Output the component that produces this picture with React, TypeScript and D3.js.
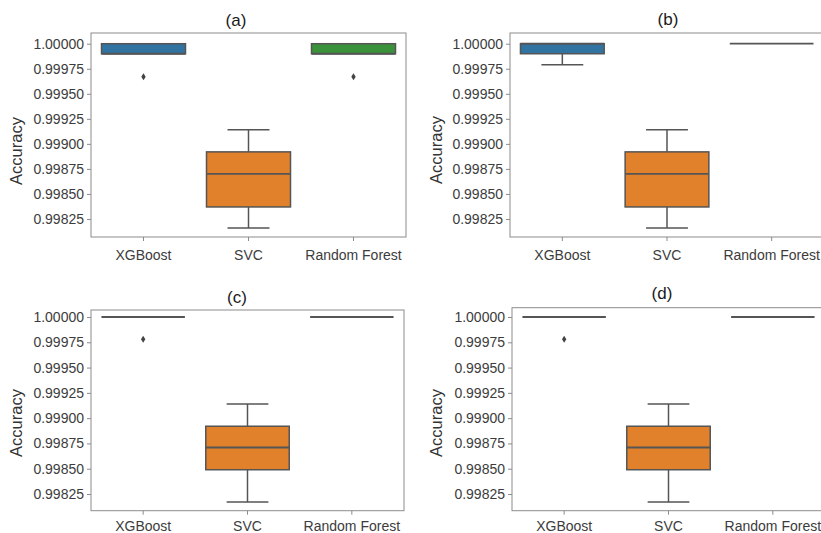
import React, { useRef, useEffect } from "react";
import { select, scaleLinear, scaleBand, axisLeft, axisBottom, format } from "d3";

const categories = ["XGBoost", "SVC", "Random Forest"];
const boxColors = ["#3274a1", "#e1812c", "#3a923a"];
const panelTitles = ["(a)", "(b)", "(c)", "(d)"];
const yTicks = [1.0, 0.99975, 0.9995, 0.99925, 0.999, 0.99875, 0.9985, 0.99825];

// [whiskerLow, q1, median, q3, whiskerHigh] per category
const statsA = [
  [0.9999, 0.9999, 0.9999, 1.0, 1.0],
  [0.99816, 0.99837, 0.9987, 0.99892, 0.99914],
  [0.9999, 0.9999, 0.9999, 1.0, 1.0],
];
const outliersA = [[0.99967], [], [0.99967]];

const statsB = [
  [0.99979, 0.9999, 1.0, 1.0, 1.0],
  [0.99816, 0.99837, 0.9987, 0.99892, 0.99914],
  [1.0, 1.0, 1.0, 1.0, 1.0],
];
const outliersB = [[], [], []];

const statsC = [
  [1.0, 1.0, 1.0, 1.0, 1.0],
  [0.99817, 0.99849, 0.99871, 0.99892, 0.99914],
  [1.0, 1.0, 1.0, 1.0, 1.0],
];
const outliersC = [[0.99978], [], []];

const statsD = [
  [1.0, 1.0, 1.0, 1.0, 1.0],
  [0.99817, 0.99849, 0.99871, 0.99892, 0.99914],
  [1.0, 1.0, 1.0, 1.0, 1.0],
];
const outliersD = [[0.99978], [], []];

const allStats = [statsA, statsB, statsC, statsD];
const allOutliers = [outliersA, outliersB, outliersC, outliersD];

// frame and text placement of each panel
const layouts = [
  { left: 91, right: 406, top: 33, bottom: 237, yMin: 0.99807, yMax: 1.000107, titleX: 236, titleY: 26, labelX: 22, labelY: 151, xLabelY: 260 },
  { left: 510, right: 824, top: 33, bottom: 237, yMin: 0.99807, yMax: 1.000107, titleX: 668, titleY: 25, labelX: 442, labelY: 150, xLabelY: 260 },
  { left: 91, right: 404, top: 310, bottom: 510.7, yMin: 0.998085, yMax: 1.0000692, titleX: 237, titleY: 303, labelX: 22, labelY: 423, xLabelY: 531 },
  { left: 512, right: 825, top: 307.7, bottom: 510.7, yMin: 0.998085, yMax: 1.000092, titleX: 662, titleY: 299, labelX: 442, labelY: 423, xLabelY: 531 },
];

const lineColor = "#555555";
const fontFamily = "'Liberation Sans', Arial, sans-serif";

const App: React.FC = () => {
  const svgRef = useRef<SVGSVGElement>(null);

  useEffect(() => {
    const svg = select(svgRef.current);
    svg.selectAll("*").remove();

    layouts.forEach((lay, p) => {
      const g = svg.append("g");
      const y = scaleLinear().domain([lay.yMin, lay.yMax]).range([lay.bottom, lay.top]);
      const x = scaleBand<string>().domain(categories).range([lay.left, lay.right]);
      const bw = x.bandwidth() * 0.8;

      // frame
      g.append("rect")
        .attr("x", lay.left)
        .attr("y", lay.top)
        .attr("width", lay.right - lay.left)
        .attr("height", lay.bottom - lay.top)
        .attr("fill", "none")
        .attr("stroke", "#8c8c8c")
        .attr("stroke-width", 1);

      const yAxis = axisLeft(y).tickValues(yTicks).tickFormat(format(".5f")).tickSize(4).tickPadding(3);
      const gy = g.append("g").attr("transform", `translate(${lay.left},0)`).call(yAxis);
      const xAxis = axisBottom(x).tickSize(4).tickPadding(6);
      const gx = g.append("g").attr("transform", `translate(0,${lay.bottom})`).call(xAxis);
      [gy, gx].forEach((ax) => {
        ax.select(".domain").remove();
        ax.selectAll("line").attr("stroke", "#8c8c8c");
        ax.selectAll("text")
          .attr("fill", "#3c3c3c")
          .style("font-size", "14px")
          .style("font-family", fontFamily);
      });
      gx.selectAll("text").attr("y", null).attr("dy", null).attr("transform", `translate(0,${lay.xLabelY - lay.bottom})`);

      // boxes
      allStats[p].forEach((s, i) => {
        const cx = x(categories[i])! + x.bandwidth() / 2;
        const [lo, q1, med, q3, hi] = s;
        const capW = bw / 2;
        if (q3 - q1 > 0) {
          g.append("line")
            .attr("x1", cx).attr("x2", cx)
            .attr("y1", y(hi)).attr("y2", y(q3))
            .attr("stroke", lineColor).attr("stroke-width", 1.5);
          g.append("line")
            .attr("x1", cx).attr("x2", cx)
            .attr("y1", y(q1)).attr("y2", y(lo))
            .attr("stroke", lineColor).attr("stroke-width", 1.5);
          if (hi > q3)
            g.append("line")
              .attr("x1", cx - capW / 2).attr("x2", cx + capW / 2)
              .attr("y1", y(hi)).attr("y2", y(hi))
              .attr("stroke", lineColor).attr("stroke-width", 1.5);
          if (lo < q1)
            g.append("line")
              .attr("x1", cx - capW / 2).attr("x2", cx + capW / 2)
              .attr("y1", y(lo)).attr("y2", y(lo))
              .attr("stroke", lineColor).attr("stroke-width", 1.5);
          g.append("rect")
            .attr("x", cx - bw / 2)
            .attr("y", y(q3))
            .attr("width", bw)
            .attr("height", y(q1) - y(q3))
            .attr("fill", boxColors[i])
            .attr("stroke", lineColor)
            .attr("stroke-width", 1.5);
        }
        g.append("line")
          .attr("x1", cx - bw / 2).attr("x2", cx + bw / 2)
          .attr("y1", y(med)).attr("y2", y(med))
          .attr("stroke", lineColor).attr("stroke-width", 1.8);

        allOutliers[p][i].forEach((v) => {
          g.append("path")
            .attr("d", "M0,-3.5L2.2,0L0,3.5L-2.2,0Z")
            .attr("transform", `translate(${cx},${y(v)})`)
            .attr("fill", "#444444");
        });
      });

      g.append("text")
        .attr("x", lay.titleX)
        .attr("y", lay.titleY)
        .attr("text-anchor", "middle")
        .style("font-size", "17px")
        .style("font-family", fontFamily)
        .attr("fill", "#1a1a1a")
        .text(panelTitles[p]);

      g.append("text")
        .attr("transform", `translate(${lay.labelX},${lay.labelY}) rotate(-90)`)
        .attr("text-anchor", "middle")
        .style("font-size", "16.5px")
        .style("font-family", fontFamily)
        .attr("fill", "#333333")
        .text("Accuracy");
    });
  });

  return (
    <svg
      ref={svgRef}
      width={821}
      height={533}
      style={{ position: "absolute", left: 0, top: 0, background: "#ffffff" }}
    ></svg>
  );
};

export default App;
